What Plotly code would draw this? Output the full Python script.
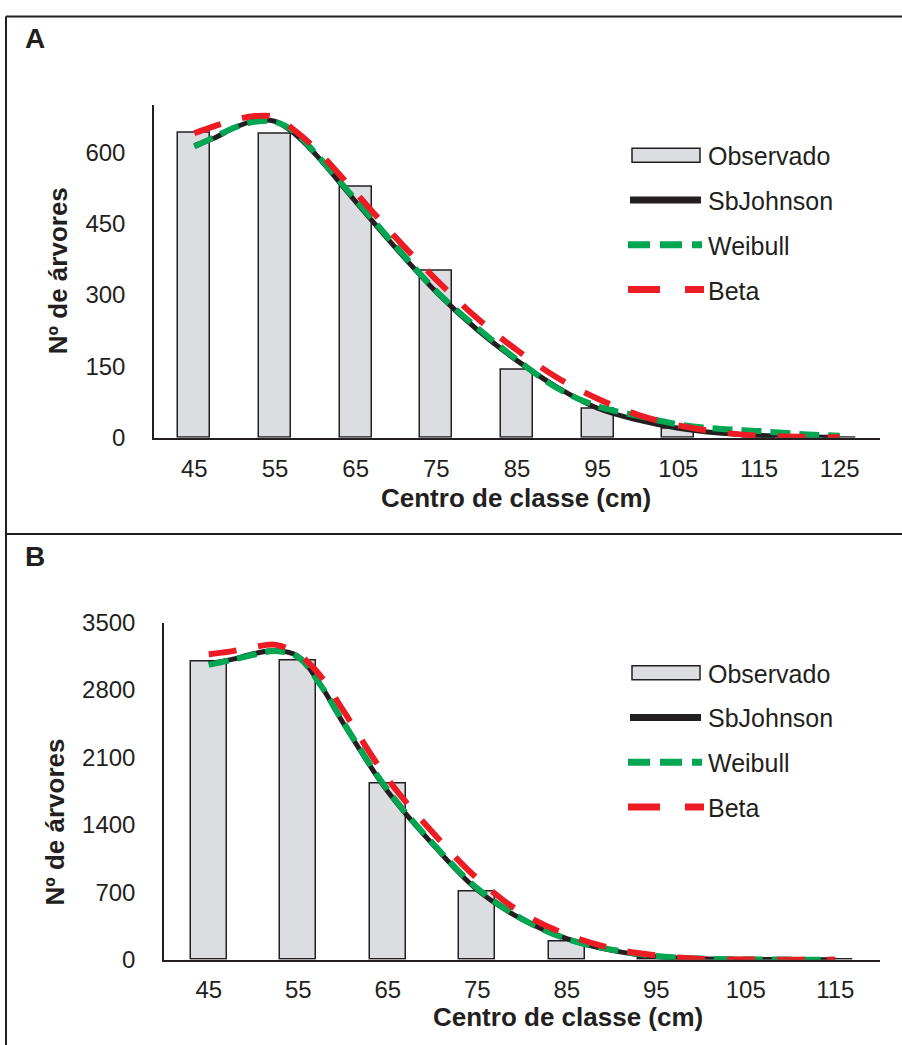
import plotly.graph_objects as go

# ---------------- data ----------------
# Panel A: observed tree counts per diameter class centre (cm)
classes_a = [45, 55, 65, 75, 85, 95, 105, 115, 125]
observed_a = [642, 639, 528, 351, 144, 61, 18, 3, 1]

# fitted distributions, panel A
fit_x_a = [45, 47.5, 50, 52.5, 55, 57.5, 60, 65, 70, 75, 80, 85, 90, 95, 100, 105, 110, 115, 120, 125]
sbjohnson_a = [614, 630, 652, 666, 665, 638, 596, 496, 398, 306, 228, 162, 106, 62, 37, 20, 10, 5, 2, 1]
weibull_a = [612, 632, 652, 664, 664, 642, 598, 500, 402, 308, 232, 164, 104, 66, 46, 28, 19, 14, 8, 4]
beta_a = [640, 655, 668, 676, 674, 645, 608, 515, 420, 332, 252, 184, 126, 82, 48, 26, 12, 4, 2, 1]

# Panel B
classes_b = [45, 55, 65, 75, 85, 95, 105, 115]
observed_b = [3094, 3107, 1833, 704, 194, 12, 2, 1]

fit_x_b = [45, 47.5, 50, 52.5, 55, 57.5, 60, 65, 70, 75, 80, 85, 90, 95, 100, 105, 110, 115]
sbjohnson_b = [3073, 3115, 3175, 3210, 3150, 2850, 2460, 1745, 1200, 725, 420, 220, 97, 32, 10, 3, 1, 0]
weibull_b = [3060, 3110, 3165, 3205, 3140, 2850, 2470, 1760, 1210, 740, 425, 215, 105, 38, 12, 4, 1, 0]
beta_b = [3170, 3200, 3245, 3268, 3170, 2944, 2590, 1875, 1323, 842, 484, 262, 119, 45, 8, 2, 0, 0]

ticks_y_a = [0, 150, 300, 450, 600]
ticks_y_b = [0, 700, 1400, 2100, 2800, 3500]

series_names = ["Observado", "SbJohnson", "Weibull", "Beta"]

# ---------------- style ----------------
W = 902
H = 1058
Y_SCALE = 0.9756   # vertical page scale of the rendered figure
Y_SHIFT = 12.5     # page rows above the figure
INK = "#231f20"
BAR_FILL = "#dcdde0"
GREEN = "#00a651"
RED = "#ed1c24"
FONT = "Liberation Sans, Arial, sans-serif"

fig = go.Figure()


def add_panel(xa, ya, classes, observed, fx, sj, wb, bt):
    fig.add_trace(go.Bar(x=classes, y=observed, width=4, xaxis=xa, yaxis=ya,
                         marker=dict(color=BAR_FILL, line=dict(color=INK, width=1.5)),
                         showlegend=False))
    fig.add_trace(go.Scatter(x=fx, y=sj, mode="lines", xaxis=xa, yaxis=ya,
                             line=dict(color=INK, width=5, shape="spline", smoothing=1.0),
                             showlegend=False))
    fig.add_trace(go.Scatter(x=fx, y=wb, mode="lines", xaxis=xa, yaxis=ya,
                             line=dict(color=GREEN, width=6, shape="spline", smoothing=1.0,
                                       dash="20px,9px"),
                             showlegend=False))
    fig.add_trace(go.Scatter(x=fx, y=bt, mode="lines", xaxis=xa, yaxis=ya,
                             line=dict(color=RED, width=6, shape="spline", smoothing=1.0,
                                       dash="28px,22px"),
                             showlegend=False))


add_panel("x", "y", classes_a, observed_a, fit_x_a, sbjohnson_a, weibull_a, beta_a)
add_panel("x2", "y2", classes_b, observed_b, fit_x_b, sbjohnson_b, weibull_b, beta_b)


def px_x(v):
    return v / W


def px_y(v):
    # page pixel row -> paper fraction
    f = 1 - ((v - Y_SHIFT) / Y_SCALE) / H
    return min(1.0, max(0.0, f))


axis_common = dict(showgrid=False, zeroline=False, showline=True, linecolor=INK, linewidth=1.5,
                   ticks="", tickfont=dict(family=FONT, size=24, color=INK), fixedrange=True)

fig.update_layout(
    width=W, height=H,
    margin=dict(l=0, r=0, t=0, b=0),
    paper_bgcolor="white", plot_bgcolor="white",
    bargap=0,
    xaxis=dict(domain=[px_x(154), px_x(880)], range=[40, 130], tickvals=classes_a,
               ticklabelstandoff=9, anchor="y", **axis_common),
    yaxis=dict(domain=[px_y(436.7), px_y(103.3)], range=[0, 700], tickvals=ticks_y_a,
               ticklabelstandoff=22, anchor="x", **axis_common),
    xaxis2=dict(domain=[px_x(164), px_x(880)], range=[40, 120], tickvals=classes_b,
                ticklabelstandoff=8, anchor="y2", **axis_common),
    yaxis2=dict(domain=[px_y(959.3), px_y(621.7)], range=[0, 3500], tickvals=ticks_y_b,
                ticklabelstandoff=22, anchor="x2", **axis_common),
)

shapes = []
annotations = []

# outer frame and divider between panels
for x0, y0, x1, y1 in [(6, 15, 902, 15), (6, 15, 6, 1045), (6, 533, 902, 533)]:
    shapes.append(dict(type="line", xref="paper", yref="paper",
                       x0=px_x(x0), y0=px_y(y0), x1=px_x(x1), y1=px_y(y1),
                       line=dict(color=INK, width=2)))

# panel letters
for letter, y in [("A", 37), ("B", 556)]:
    annotations.append(dict(text="<b>" + letter + "</b>", x=px_x(23), y=px_y(y), xref="paper", yref="paper",
                            xanchor="left", yanchor="middle", showarrow=False,
                            font=dict(family=FONT, size=28, color=INK)))

# axis titles
for text, x, y, rot in [("Nº de árvores", 58, 270, -90),
                        ("Centro de classe (cm)", 516, 497, 0),
                        ("Nº de árvores", 55, 822, -90),
                        ("Centro de classe (cm)", 568, 1017, 0)]:
    annotations.append(dict(text="<b>" + text + "</b>", x=px_x(x), y=px_y(y), xref="paper", yref="paper",
                            xanchor="center", yanchor="middle", showarrow=False, textangle=rot,
                            font=dict(family=FONT, size=26, color=INK)))

# legends (one per panel)
for top in (154, 672):
    rows = [top + i * 44.8 for i in range(4)]
    # Observado swatch
    shapes.append(dict(type="rect", xref="paper", yref="paper",
                       x0=px_x(632), x1=px_x(700), y0=px_y(rows[0] - 7), y1=px_y(rows[0] + 7),
                       fillcolor=BAR_FILL, line=dict(color=INK, width=1.5)))
    shapes.append(dict(type="line", xref="paper", yref="paper",
                       x0=px_x(630), x1=px_x(701), y0=px_y(rows[1]), y1=px_y(rows[1]),
                       line=dict(color=INK, width=7)))
    shapes.append(dict(type="line", xref="paper", yref="paper",
                       x0=px_x(628), x1=px_x(702), y0=px_y(rows[2]), y1=px_y(rows[2]),
                       line=dict(color=GREEN, width=7, dash="22px,10px")))
    shapes.append(dict(type="line", xref="paper", yref="paper",
                       x0=px_x(628), x1=px_x(704), y0=px_y(rows[3]), y1=px_y(rows[3]),
                       line=dict(color=RED, width=7, dash="32px,25px")))
    for name, y in zip(series_names, rows):
        annotations.append(dict(text=name, x=px_x(706), y=px_y(y + 1), xref="paper", yref="paper",
                                xanchor="left", yanchor="middle", showarrow=False,
                                font=dict(family=FONT, size=25, color=INK)))

fig.update_layout(shapes=shapes, annotations=annotations)

fig.write_html("out.html")
